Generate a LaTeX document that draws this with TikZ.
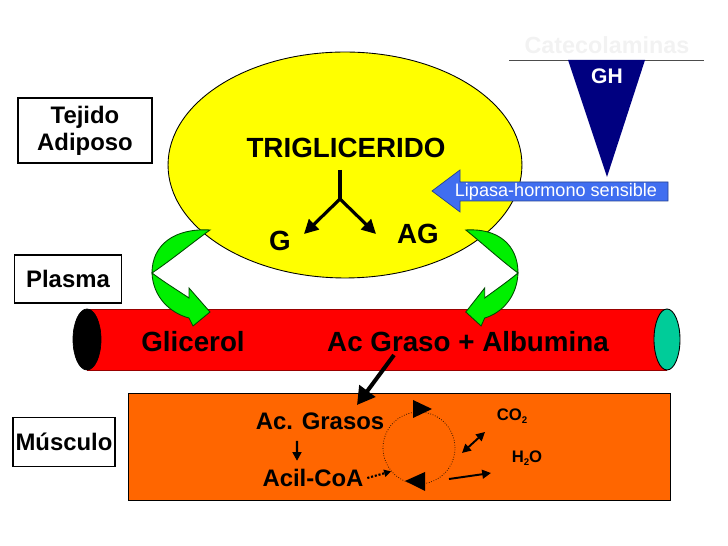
\documentclass[tikz,border=0pt]{standalone}
\usepackage{fontspec}
\setmainfont{Liberation Sans}
\usetikzlibrary{arrows.meta}

\definecolor{tubered}{RGB}{255,0,0}
\definecolor{cellorange}{RGB}{255,102,0}
\definecolor{fatyellow}{RGB}{255,255,0}
\definecolor{bendgreen}{RGB}{0,240,0}
\definecolor{lipblue}{RGB}{64,110,240}
\definecolor{ghnavy}{RGB}{0,0,128}
\definecolor{endteal}{RGB}{0,204,153}

\tikzset{
  bendarrow/.pic={
    % crescent
    \filldraw[fill=bendgreen, draw=black!70!green, line width=0.5pt]
      (0,0) .. controls (0,-28) and (22,-45) .. (58,-43)
            .. controls (40,-30) and (18,-12) .. cycle;
    % lower part with head
    \filldraw[fill=bendgreen, draw=black!70!green, line width=0.5pt]
      (0,0) .. controls (12,9) and (25,17) .. (37,25)
      -- (37,15) -- (58,39) -- (41,53) -- (37,45)
      .. controls (18,40) and (1,24) .. cycle;
  }
}

\begin{document}
\begin{tikzpicture}[x=0.02cm, y=-0.02cm,
    bigtxt/.style={font=\fontsize{15.8}{18}\selectfont\bfseries, inner sep=0pt},
    midtxt/.style={font=\fontsize{13.6}{15.5}\selectfont\bfseries, inner sep=0pt},
    smalltxt/.style={font=\fontsize{9.5}{11}\selectfont\bfseries, inner sep=0pt},
    labelbox/.style={draw, line width=0.6pt, fill=white, align=center,
      font=\fontsize{13.6}{15.4}\selectfont\bfseries, inner sep=0pt},
    forkarrow/.style={line width=1.8pt, -{Triangle[length=8pt, width=8pt]}},
    thinarrow/.style={line width=1.1pt, -{Triangle[length=5pt, width=5pt]}}]

  \useasboundingbox (0,0) rectangle (728,546);

  % tissue labels
  \node[labelbox, minimum width=2.68cm, minimum height=1.3cm] (adiposo) at (85,130.5) {Tejido\\Adiposo};
  \node[labelbox, minimum width=2.14cm, minimum height=0.96cm] (plasma) at (68,279) {Plasma};
  \node[labelbox, minimum width=2.04cm, minimum height=0.98cm] (musculo) at (64,442) {Músculo};

  % catecholamines and GH
  \draw[line width=0.5pt, black!70] (509,60) -- (704,60);
  \node[font=\fontsize{13.3}{15}\selectfont\bfseries, text=black!5] (cat) at (607,45) {Catecolaminas};
  \fill[ghnavy] (568,60) -- (645,60) -- (607,177) -- cycle;
  \node[font=\fontsize{12}{14}\selectfont\bfseries, text=white, inner sep=0pt] (gh) at (607,76) {GH};

  % adipose cell
  \filldraw[fill=fatyellow, draw=black, line width=0.5pt] (345,165) ellipse [x radius=3.54cm, y radius=2.26cm];
  \node[bigtxt] (trig) at (346,148) {TRIGLICERIDO};
  \node[bigtxt] (g) at (280,241) {G};
  \node[bigtxt] (ag) at (418,234) {AG};
  \draw[line width=1.8pt] (340,170) -- (340,199) coordinate (fork);
  \coordinate (gend) at (304,234);
  \coordinate (agend) at (376,234);
  \draw[forkarrow] (fork) -- (gend);
  \draw[forkarrow] (fork) -- (agend);

  % lipase
  \filldraw[fill=lipblue, draw=lipblue!60!black, line width=0.4pt]
    (432,191) -- (460,170) -- (460,182) -- (668,182) -- (668,201) -- (460,201) -- (460,212) -- cycle;
  \node[font=\fontsize{10.3}{12}\selectfont, text=white, inner sep=0pt] (lipasa) at (556,191.5) {Lipasa-hormono sensible};

  % blood vessel
  \fill[tubered] (87,309) rectangle (667,370);
  \draw[line width=0.5pt, red!60!black] (87,309) -- (667,309);
  \draw[line width=0.5pt, red!60!black] (87,370) -- (667,370);
  \filldraw[fill=black, draw=black] (87,339.5) ellipse [x radius=0.28cm, y radius=0.61cm];
  \filldraw[fill=endteal, draw=black, line width=0.5pt] (667,339.5) ellipse [x radius=0.26cm, y radius=0.61cm];
  \node[bigtxt] (glicerol) at (193,342) {Glicerol};
  \node[bigtxt] (acgraso) at (468,342) {Ac Graso + Albumina};

  % green exchange arrows
  \pic at (152,273) {bendarrow};
  \pic[xscale=-0.9] at (518,273) {bendarrow};

  % muscle cell
  \filldraw[fill=cellorange, draw=black, line width=0.5pt] (128,393) rectangle (670,500);
  \coordinate (intail) at (394,355);
  \coordinate (inhead) at (357,405);
  \draw[line width=2.3pt, -{Triangle[length=10pt, width=11pt]}] (intail) -- (inhead);

  \node[midtxt] (acgrasos) at (320,421) {Ac. Grasos};
  \node[midtxt] (acilcoa) at (313,478) {Acil-CoA};
  \draw[thinarrow, line width=1.4pt] ([xshift=-0.46cm, yshift=-0.22cm]acgrasos.south) -- ([xshift=-0.32cm, yshift=0.16cm]acilcoa.north);

  \node[draw, densely dotted, line width=0.4pt, circle, minimum size=1.44cm, inner sep=0pt] (krebs) at (419,448) {};
  \fill (413,400) -- (413,418) -- (432,409) -- cycle;
  \fill (405,481) -- (425,472) -- (425,491) -- cycle;
  \draw[densely dotted, line width=1.2pt, -{Triangle[length=4pt, width=4pt]}] ([xshift=2pt]acilcoa.east) -- (krebs.220);

  \node[smalltxt] (co2) at (512,416) {CO\raisebox{-0.4ex}{\fontsize{5.5}{6}\selectfont 2}};
  \node[smalltxt] (h2o) at (527,458) {H\raisebox{-0.4ex}{\fontsize{5.5}{6}\selectfont 2}O};
  \coordinate (co2a) at (462,453);
  \coordinate (co2b) at (485,432);
  \coordinate (h2oa) at (449,479);
  \coordinate (h2ob) at (491,473);
  \draw[thinarrow, {Triangle[length=5pt, width=5pt]}-{Triangle[length=5pt, width=5pt]}] (co2a) -- (co2b);
  \draw[thinarrow] (h2oa) -- (h2ob);
\end{tikzpicture}
\end{document}
